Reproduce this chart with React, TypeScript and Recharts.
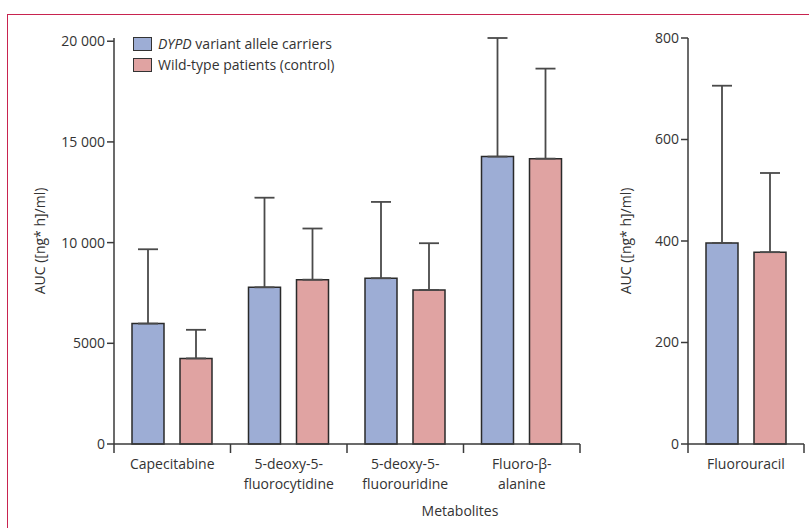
import { BarChart, Bar, XAxis, YAxis, ErrorBar } from 'recharts';

const categories = ['Capecitabine', '5-deoxy-5-\nfluorocytidine', '5-deoxy-5-\nfluorouridine', 'Fluoro-β-\nalanine'];
const carriers = [5980, 7780, 8230, 14270];
const carriersSd = [3690, 4450, 3790, 5890];
const wildType = [4250, 8160, 7650, 14170];
const wildTypeSd = [1420, 2540, 2320, 4470];

const fuCategory = ['Fluorouracil'];
const fuCarriers = [396];
const fuCarriersSd = [310];
const fuWildType = [378];
const fuWildTypeSd = [156];

const leftTicks = [0, 5000, 10000, 15000, 20000];
const rightTicks = [0, 200, 400, 600, 800];

const BLUE = '#9dadd5';
const PINK = '#e0a3a2';
const AXIS = '#3a3a3a';
const FONT = '"Open Sans", "DejaVu Sans", sans-serif';

const build = (cats: string[], a: number[], aSd: number[], b: number[], bSd: number[]) =>
  cats.map((name, i) => ({
    name,
    carriers: a[i],
    carriersErr: [0, aSd[i]],
    wild: b[i],
    wildErr: [0, bSd[i]],
  }));

const leftData = build(categories, carriers, carriersSd, wildType, wildTypeSd);
const rightData = build(fuCategory, fuCarriers, fuCarriersSd, fuWildType, fuWildTypeSd);

const fmt = (v: number) => (v >= 10000 ? String(v).replace(/\B(?=(\d{3})+(?!\d))/g, ' ') : String(v));

// category labels with tick marks at the band edges
const CategoryTick = (props: any) => {
  const { x, y, payload, index, visibleTicksCount, width } = props;
  const band = width / visibleTicksCount;
  const lines = String(payload.value).split('\n');
  return (
    <g>
      <line x1={x - band / 2} y1={y - 8} x2={x - band / 2} y2={y + 1} stroke={AXIS} strokeWidth={1.5} />
      {index === visibleTicksCount - 1 && (
        <line x1={x + band / 2} y1={y - 8} x2={x + band / 2} y2={y + 1} stroke={AXIS} strokeWidth={1.5} />
      )}
      <text x={x} y={y + 17} textAnchor="middle" fill="#333" fontSize={14} fontFamily={FONT}>
        {lines.map((l, i) => (
          <tspan key={i} x={x} dy={i === 0 ? 0 : 20}>
            {l}
          </tspan>
        ))}
      </text>
    </g>
  );
};

const LegendBox = () => (
  <div style={{ position: 'absolute', left: 133, top: 33, fontFamily: FONT, fontSize: 14, color: '#333', lineHeight: '21px' }}>
    <div style={{ display: 'flex', alignItems: 'center' }}>
      <span style={{ width: 17, height: 12, background: BLUE, border: '1.5px solid #333', marginRight: 6 }} />
      <span>
        <i>DYPD</i> variant allele carriers
      </span>
    </div>
    <div style={{ display: 'flex', alignItems: 'center' }}>
      <span style={{ width: 17, height: 12, background: PINK, border: '1.5px solid #333', marginRight: 6 }} />
      <span>Wild-type patients (control)</span>
    </div>
  </div>
);

const yLabel = (dx: number) => ({
  value: 'AUC ([ng* h]/ml)',
  angle: -90,
  position: 'insideLeft' as const,
  dx,
  style: { textAnchor: 'middle', fill: '#333', fontSize: 14, fontFamily: FONT },
});

function Bars() {
  return [
    <Bar key="c" dataKey="carriers" fill={BLUE} stroke="#2a2a2a" strokeWidth={1.5} barSize={32} isAnimationActive={false}>
      <ErrorBar dataKey="carriersErr" width={10} stroke="#4a4a4a" strokeWidth={1.8} direction="y" />
    </Bar>,
    <Bar key="w" dataKey="wild" fill={PINK} stroke="#2a2a2a" strokeWidth={1.5} barSize={32} isAnimationActive={false}>
      <ErrorBar dataKey="wildErr" width={10} stroke="#4a4a4a" strokeWidth={1.8} direction="y" />
    </Bar>,
  ];
}

export default function App() {
  const tickStyle = { fill: '#333', fontSize: 14, fontFamily: FONT };
  return (
    <div style={{ position: 'relative', width: 809, height: 528, overflow: 'hidden', background: '#fff' }}>
      <style>{`body{margin:0}`}</style>
      <div
        style={{
          position: 'absolute',
          left: 7,
          top: 14,
          width: 820,
          height: 530,
          borderTop: '1.5px solid #c8234f',
          borderLeft: '1.5px solid #c8234f',
        }}
      />
      <div style={{ position: 'absolute', left: 0, top: 0 }}>
        <BarChart width={600} height={528} data={leftData} margin={{ top: 38, right: 20, bottom: 0, left: 34 }} barGap={16}>
          <YAxis
            domain={[0, 20000]}
            ticks={leftTicks}
            tickFormatter={fmt}
            width={80}
            stroke={AXIS}
            strokeWidth={1.5}
            tickSize={7}
            tick={tickStyle}
            label={yLabel(1)}
          />
          <XAxis
            dataKey="name"
            height={84}
            stroke={AXIS}
            strokeWidth={1.5}
            tickLine={false}
            interval={0}
            tick={<CategoryTick />}
            label={{
              value: 'Metabolites',
              position: 'insideBottom',
              offset: 12,
              dx: 113,
              style: { fill: '#333', fontSize: 14, fontFamily: FONT },
            }}
          />
          {Bars()}
        </BarChart>
      </div>
      <LegendBox />
      <div style={{ position: 'absolute', left: 600, top: 0 }}>
        <BarChart width={209} height={528} data={rightData} margin={{ top: 38, right: 5, bottom: 0, left: 21 }} barGap={16}>
          <YAxis
            domain={[0, 800]}
            ticks={rightTicks}
            width={67}
            stroke={AXIS}
            strokeWidth={1.5}
            tickSize={7}
            tick={tickStyle}
            label={yLabel(0)}
          />
          <XAxis dataKey="name" height={84} stroke={AXIS} strokeWidth={1.5} tickLine={false} interval={0} tick={<CategoryTick />} />
          {Bars()}
        </BarChart>
      </div>
    </div>
  );
}
